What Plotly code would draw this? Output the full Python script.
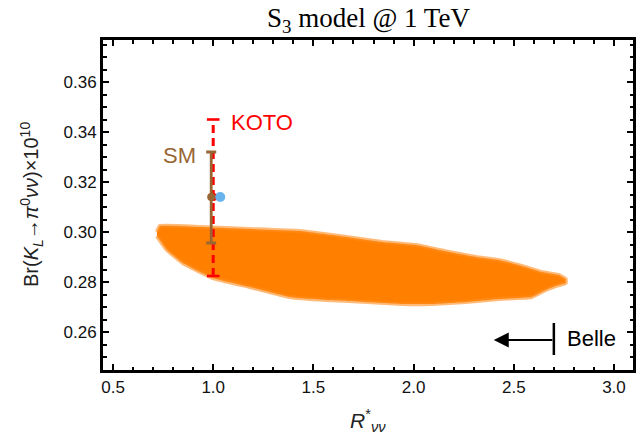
import plotly.graph_objects as go

# Envelope of the S3 model scan points: upper edge (left to right) and lower edge (right to left)
env_upper_r = [0.719, 0.734, 0.933, 1.182, 1.430, 1.629, 1.843, 2.012, 2.177, 2.311, 2.425, 2.540, 2.639, 2.724, 2.759]
env_upper_br = [0.3000, 0.3024, 0.3020, 0.3012, 0.3004, 0.2984, 0.2960, 0.2948, 0.2920, 0.2900, 0.2888, 0.2864, 0.2840, 0.2828, 0.2812]
env_lower_r = [2.759, 2.709, 2.659, 2.590, 2.425, 2.261, 2.092, 1.943, 1.679, 1.565, 1.381, 1.182, 0.998, 0.848, 0.769, 0.719]
env_lower_br = [0.2796, 0.2784, 0.2768, 0.2740, 0.2732, 0.2720, 0.2712, 0.2712, 0.2724, 0.2728, 0.2740, 0.2780, 0.2816, 0.2876, 0.2928, 0.2984]

# Standard Model prediction
sm_r = 0.99
sm_br = 0.314
sm_br_lo = 0.2956
sm_br_hi = 0.332

# KOTO band
koto_r = 1.0
koto_br = 0.314
koto_br_lo = 0.2824
koto_br_hi = 0.345

# Benchmark point
bench_r = [1.035]
bench_br = [0.314]

# Belle upper bound on R*_vv
belle_bound = 2.7
belle_arrow_to = 2.4
belle_br = 0.2568
belle_bar = [0.2508, 0.2636]

ORANGE = "#ff8000"
BROWN = "#996633"
RED = "#ff0000"

fig = go.Figure()

# scan region
fig.add_trace(go.Scatter(
    x=env_upper_r + env_lower_r,
    y=env_upper_br + env_lower_br,
    mode="lines", fill="toself", fillcolor=ORANGE,
    line=dict(color="rgba(255,140,30,0.6)", width=4, shape="spline", smoothing=0.3),
    hoverinfo="skip", showlegend=False,
))

# KOTO dashed band with caps
fig.add_trace(go.Scatter(
    x=[koto_r, koto_r], y=[koto_br_lo, koto_br_hi], mode="lines",
    line=dict(color=RED, width=3, dash="8px,5px"), showlegend=False,
))
fig.add_trace(go.Scatter(
    x=[koto_r, koto_r], y=[koto_br_lo, koto_br_hi], mode="markers",
    marker=dict(symbol="line-ew-open", size=9, color=RED, line=dict(color=RED, width=2.6)),
    showlegend=False,
))
fig.add_trace(go.Scatter(
    x=[koto_r], y=[koto_br], mode="markers",
    marker=dict(color=RED, size=8), showlegend=False,
))

# SM error bar
fig.add_trace(go.Scatter(
    x=[sm_r], y=[sm_br], mode="markers",
    marker=dict(color=BROWN, size=8),
    error_y=dict(type="data", symmetric=False,
                 array=[sm_br_hi - sm_br], arrayminus=[sm_br - sm_br_lo],
                 color=BROWN, thickness=2.8, width=5),
    showlegend=False,
))

# benchmark point
fig.add_trace(go.Scatter(
    x=bench_r, y=bench_br, mode="markers",
    marker=dict(color="#6ab4ee", size=10), showlegend=False,
))

# Belle bound bar
fig.add_trace(go.Scatter(
    x=[belle_bound, belle_bound], y=belle_bar, mode="lines",
    line=dict(color="black", width=2.5), showlegend=False,
))

fig.add_annotation(
    x=belle_arrow_to, y=belle_br, ax=belle_bound, ay=belle_br,
    xref="x", yref="y", axref="x", ayref="y",
    showarrow=True, arrowhead=2, arrowsize=1.5, arrowwidth=2, arrowcolor="black", text="",
)

label_font = "Liberation Sans, Arial, sans-serif"
fig.add_annotation(x=belle_bound + 0.055, y=belle_br + 0.0007, xref="x", yref="y",
                   text="Belle", showarrow=False, xanchor="left",
                   font=dict(family=label_font, size=22, color="black"))
fig.add_annotation(x=koto_r + 0.08, y=0.3437, xref="x", yref="y",
                   text="KOTO", showarrow=False, xanchor="left",
                   font=dict(family=label_font, size=22, color=RED))
fig.add_annotation(x=sm_r - 0.065, y=0.3307, xref="x", yref="y",
                   text="SM", showarrow=False, xanchor="right",
                   font=dict(family=label_font, size=22, color=BROWN))

# title and axis labels
fig.add_annotation(x=0.5, y=1.0, xref="paper", yref="paper", yanchor="middle", yshift=20,
                   text="S<sub>3</sub> model @ 1 TeV", showarrow=False,
                   font=dict(family="Liberation Serif, Times New Roman, serif", size=27, color="black"))
fig.add_annotation(x=0.5, y=0.0, xref="paper", yref="paper", yanchor="middle", yshift=-50,
                   text="<i>R</i><sup>*</sup><sub><i>νν</i></sub>", showarrow=False,
                   font=dict(family=label_font, size=21, color="#222"))
fig.add_annotation(x=0.0, y=0.5, xref="paper", yref="paper", xanchor="center", xshift=-72,
                   text="Br(<i>K<sub>L</sub></i>→<i>π</i><sup>0</sup><i>νν</i>)×10<sup>10</sup>",
                   textangle=-90, showarrow=False,
                   font=dict(family=label_font, size=20, color="#222"))

axis_common = dict(
    showline=True, linecolor="black", linewidth=3, mirror="allticks",
    ticks="inside", ticklen=6, tickwidth=2, tickcolor="black",
    showgrid=False, zeroline=False,
    tickfont=dict(family=label_font, size=17, color="#111"),
)

fig.update_xaxes(range=[0.45, 3.095], tick0=0.5, dtick=0.5, tickformat=".1f",
                 minor=dict(dtick=0.1, ticks="inside", ticklen=3.5, tickwidth=1.5, tickcolor="black"),
                 **axis_common)
fig.update_yaxes(range=[0.2448, 0.3768], tick0=0.26, dtick=0.02, tickformat=".2f",
                 minor=dict(dtick=0.005, ticks="inside", ticklen=3.5, tickwidth=1.5, tickcolor="black"),
                 **axis_common)

fig.update_layout(
    width=641, height=442, autosize=False,
    margin=dict(l=103, r=5, t=40, b=72),
    plot_bgcolor="white", paper_bgcolor="white",
    showlegend=False,
)

fig.write_html("out.html")
